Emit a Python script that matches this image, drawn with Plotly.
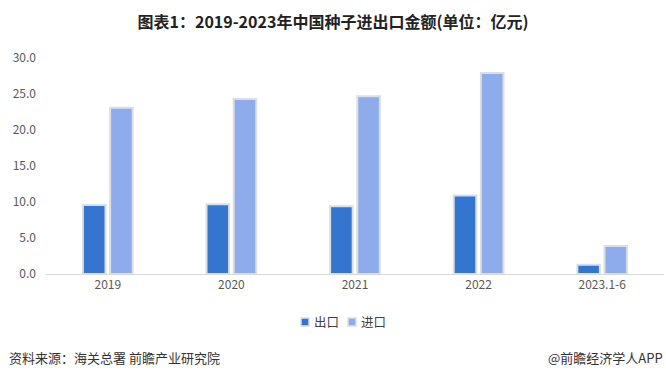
import plotly.graph_objects as go

categories = ["2019", "2020", "2021", "2022", "2023.1-6"]
export_vals = [9.6, 9.7, 9.4, 10.9, 1.3]
import_vals = [23.1, 24.3, 24.7, 27.9, 3.9]
y_ticks = [0, 5, 10, 15, 20, 25, 30]
y_tick_labels = ["0.0", "5.0", "10.0", "15.0", "20.0", "25.0", "30.0"]
series_names = ["出口", "进口"]
series_colors = ["#3375CF", "#8EABEC"]

FONT = "Noto Sans CJK SC"
BORDER = "#DEDEDE"

# plot area in pixels: x 46..664, y 58..274
PW, PH = 618, 216


def px_x(x):
    return (x - 46) / PW


def px_y(y):
    return (274 - y) / PH


fig = go.Figure()
for name, vals, col in zip(series_names, [export_vals, import_vals], series_colors):
    fig.add_trace(go.Bar(
        name=name, x=categories, y=vals, showlegend=False,
        marker=dict(color=col, line=dict(color=BORDER, width=2)),
    ))

shapes = []
annotations = []
# legend (swatch + label)
for i, (name, col) in enumerate(zip(series_names, series_colors)):
    x0 = 301 + i * 47
    shapes.append(dict(
        type="rect", xref="paper", yref="paper",
        x0=px_x(x0), x1=px_x(x0 + 8), y0=px_y(326), y1=px_y(318),
        fillcolor=col, line=dict(color=BORDER, width=1.5),
    ))
    annotations.append(dict(
        text=name, xref="paper", yref="paper", x=px_x(x0 + 11), xanchor="left",
        y=px_y(321.5), yanchor="middle", showarrow=False,
        font=dict(size=12.5, color="#404040"),
    ))

annotations += [
    dict(text="资料来源：海关总署 前瞻产业研究院", xref="paper", yref="paper",
         x=px_x(7), xanchor="left", y=px_y(357), yanchor="middle", showarrow=False,
         font=dict(size=13, color="#333333")),
    dict(text="@前瞻经济学人APP", xref="paper", yref="paper",
         x=px_x(665), xanchor="right", y=px_y(357), yanchor="middle", showarrow=False,
         font=dict(size=13, color="#333333")),
]

fig.update_layout(
    width=666, height=378,
    margin=dict(l=46, r=2, t=58, b=104),
    paper_bgcolor="white", plot_bgcolor="white",
    barmode="group", bargap=0.56, bargroupgap=0.17,
    font=dict(family=FONT, color="#595959", size=12),
    title=dict(
        text="<b>图表1：2019-2023年中国种子进出口金额(单位：亿元)</b>",
        x=0.5, xanchor="center", y=1 - 22 / 378, yanchor="middle",
        font=dict(family=FONT, size=16, color="#222222"),
    ),
    showlegend=False,
    xaxis=dict(
        showgrid=False, showline=True, linecolor="#D9D9D9", linewidth=1,
        ticks="", tickfont=dict(size=12, color="#595959"),
    ),
    yaxis=dict(
        range=[0, 30], tickvals=y_ticks, ticktext=y_tick_labels,
        showgrid=False, zeroline=False, showline=False, ticks="",
        ticklabelstandoff=9,
        tickfont=dict(size=12, color="#595959"),
    ),
    shapes=shapes,
    annotations=annotations,
)

fig.write_html(
    "out.html",
    config={"displayModeBar": False},
    post_script="document.body.style.margin='0';document.body.style.overflow='hidden';",
)
